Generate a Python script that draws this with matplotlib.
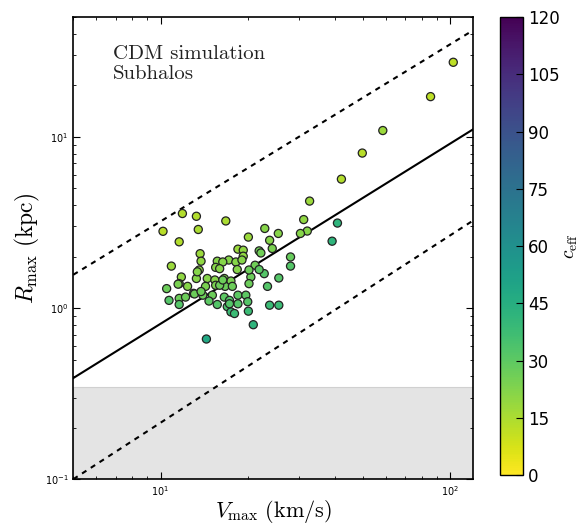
import matplotlib
matplotlib.use("Agg")
import matplotlib.pyplot as plt
import numpy as np

# subhalo data (km/s, kpc, c_eff)
vmax = [10.2, 11.9, 11.6, 13.3, 13.5, 16.8, 32.7, 102.4, 85.5, 58.5,
        49.7, 42.1, 31.2, 32.1, 30.4, 40.8, 39.1, 22.9, 25.5, 20.1,
        23.8, 24.3, 18.5, 19.3, 21.9, 22.2, 13.7, 28.1, 28.1, 19.3,
        13.8, 10.9, 15.7, 17.2, 18.2, 15.5, 21.2, 13.6, 18.4, 22.8,
        11.8, 13.3, 14.5, 15.4, 16.6, 17.5, 20.5, 25.6, 11.6, 12.4,
        14.3, 15.5, 16.7, 17.7, 20.2, 23.4, 10.5, 13.0, 14.0, 15.1,
        16.6, 18.5, 19.7, 10.7, 11.6, 12.2, 14.7, 15.7, 17.3, 18.5,
        20.0, 11.6, 17.0, 17.5, 18.0, 20.1, 23.8, 25.6, 20.9, 14.4,
        13.4, 11.5, 13.1, 13.8, 16.0, 16.4, 17.3, 19.1, 20.2, 21.9,
        16.4, 16.0]
rmax = [2.81, 3.57, 2.44, 3.44, 2.88, 3.23, 4.22, 27.3, 17.2, 10.9,
        8.05, 5.67, 3.29, 2.82, 2.73, 3.14, 2.46, 2.92, 2.73, 2.60,
        2.49, 2.23, 2.21, 2.18, 2.16, 2.10, 2.08, 1.99, 1.76, 2.01,
        1.88, 1.76, 1.88, 1.91, 1.86, 1.73, 1.78, 1.67, 1.68, 1.59,
        1.52, 1.49, 1.49, 1.46, 1.49, 1.44, 1.52, 1.50, 1.39, 1.34,
        1.34, 1.36, 1.34, 1.34, 1.39, 1.34, 1.30, 1.22, 1.19, 1.19,
        1.16, 1.19, 1.19, 1.11, 1.14, 1.16, 1.10, 1.05, 1.11, 1.06,
        1.09, 1.05, 1.02, 0.95, 0.93, 0.96, 1.04, 1.04, 0.80, 0.66,
        1.63, 1.38, 1.21, 1.25, 1.36, 1.46, 1.06, 1.91, 1.67, 1.68,
        1.86, 1.70]
ceff = [13, 14, 14, 14, 15, 15, 18, 12, 12, 18,
        13, 14, 20, 22, 22, 42, 42, 22, 22, 18,
        22, 24, 18, 20, 26, 26, 18, 28, 32, 20,
        20, 18, 22, 22, 22, 22, 26, 20, 22, 32,
        20, 22, 22, 22, 24, 24, 27, 32, 22, 22,
        24, 24, 27, 27, 27, 32, 27, 24, 27, 27,
        30, 30, 30, 32, 27, 27, 30, 32, 32, 32,
        32, 32, 34, 38, 38, 38, 38, 38, 42, 48,
        22, 24, 27, 27, 27, 27, 32, 22, 27, 30,
        22, 22]

# power-law guide lines: R(10 km/s) and slope
line_norm = {"mid": 0.810, "upper": 3.21, "lower": 0.214}
line_slope = {"mid": 1.053, "upper": 1.035, "lower": 1.095}
r_resolution = 0.345

fig = plt.figure(figsize=(5.83, 5.27), dpi=100)
ax = fig.add_axes([0.1257, 0.0905, 0.686, 0.8767])
cax = fig.add_axes([0.8576, 0.0987, 0.0395, 0.8685])

ax.set_xscale("log")
ax.set_yscale("log")
ax.set_xlim(5, 120)
ax.set_ylim(0.1, 50)

ax.axhspan(0.1, r_resolution, facecolor="#e4e4e4", edgecolor="#d0d0d0",
           lw=0.8, zorder=0)

vgrid = np.logspace(np.log10(5), np.log10(120), 50)
for key in ["mid", "upper", "lower"]:
    ls = "-" if key == "mid" else (0, (2.5, 2.5))
    ax.plot(vgrid, line_norm[key] * (vgrid / 10.0) ** line_slope[key],
            color="k", lw=1.5, ls=ls, zorder=1)

sc = ax.scatter(vmax, rmax, c=ceff, cmap="viridis_r", vmin=0, vmax=120,
                s=34, edgecolors="#222222", linewidths=0.9, zorder=3)

ax.text(0.10, 0.94, "CDM simulation\nSubhalos", transform=ax.transAxes,
        fontfamily="cmr10", fontsize=15, va="top", ha="left",
        linespacing=1.15, color="#222222")

ax.set_xlabel(r"$V_{\rm max}\ ({\rm km/s})$", fontsize=16,
              math_fontfamily="cm", labelpad=0)
ax.set_ylabel(r"$R_{\rm max}\ ({\rm kpc})$", fontsize=17,
              math_fontfamily="cm", labelpad=2)

ax.tick_params(which="both", direction="in", top=True, right=True,
               labelsize=7)
ax.tick_params(which="major", length=5, width=0.8)
ax.tick_params(which="minor", length=2.5, width=0.6)
for sp in ax.spines.values():
    sp.set_linewidth(1.2)

cb = fig.colorbar(sc, cax=cax, ticks=np.arange(0, 121, 15))
cb.ax.tick_params(labelsize=12, direction="in", length=5)
cb.outline.set_linewidth(1.0)
cb.set_label(r"$c_{\rm eff}$", fontsize=14, math_fontfamily="cm",
             labelpad=1)

fig.savefig("out.png", dpi=100)
